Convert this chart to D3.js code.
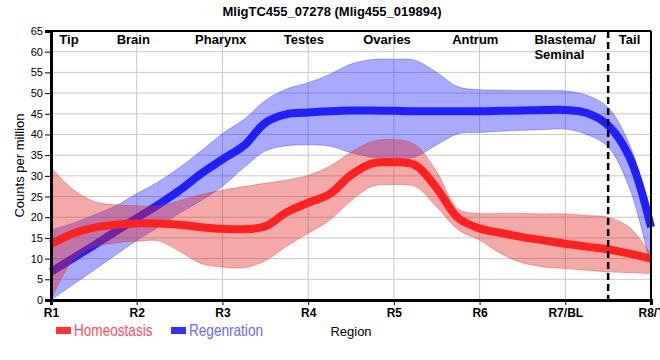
<!DOCTYPE html>
<html>
<head>
<meta charset="utf-8">
<script src="https://cdn.jsdelivr.net/npm/d3@7"></script>
<style>
  html, body { margin: 0; padding: 0; background: #fff; }
  svg { display: block; }
</style>
</head>
<body>
<svg id="chart" width="660" height="360"></svg>
<script>
// ---------------- DATA ----------------
const title = "MligTC455_07278 (Mlig455_019894)";
const xTickLabels = ["R1", "R2", "R3", "R4", "R5", "R6", "R7/BL", "R8/T"];
const yTicks = [0, 5, 10, 15, 20, 25, 30, 35, 40, 45, 50, 55, 60, 65];
const regionNames = ["Tip", "Brain", "Pharynx", "Testes", "Ovaries", "Antrum", "Blastema/\nSeminal", "Tail"];
const regionNamePos = [0.21, 0.96, 1.98, 2.95, 3.92, 4.95, 5.64, 6.75];
const boundaryPos = [6.5];
const seriesNames = ["Homeostasis", "Regenration"];

// sample positions along the region axis (R1 = 0 ... R8/T = 7)
const xs = [0, 0.25, 0.5, 0.75, 1, 1.25, 1.5, 1.75, 2, 2.25, 2.5, 2.75, 3, 3.25, 3.5,
            3.75, 4, 4.25, 4.5, 4.75, 5, 5.25, 5.5, 5.75, 6, 6.25, 6.5, 6.75, 7];

const homeoMean  = [13.5, 16, 17.5, 18.2, 18.5, 18.5, 18.2, 17.6, 17.2, 17.1, 17.8, 21.2, 23.5, 25.6, 30.2,
                    33, 33.3, 32.6, 27, 19.8, 17.3, 16.2, 15.2, 14.4, 13.6, 12.9, 12.2, 11.2, 10];
const homeoUpper = [32, 26.8, 23.8, 23, 22.8, 22.7, 24, 25.5, 26.5, 27.4, 28.2, 29, 30.1, 32.3, 35.7,
                    38.3, 38.8, 37.5, 31, 22, 20.9, 20.9, 20.9, 20.8, 20.8, 20.4, 20, 17.5, 11];
const homeoLower = [0, 9.4, 12.8, 13.8, 14.2, 14.3, 11.8, 8.8, 8, 7.8, 9.5, 13, 16.1, 19.3, 24,
                    27.5, 27.9, 27.4, 22.5, 17, 14.5, 11.2, 9, 8, 7.6, 7.2, 6.8, 6.6, 6.4];

const regenMean  = [6.8, 10, 13.2, 16.5, 19.8, 23, 26.5, 30.5, 34, 37.3, 42.8, 44.9, 45.3, 45.6, 45.8,
                    45.8, 45.7, 45.6, 45.6, 45.6, 45.6, 45.7, 45.8, 45.9, 45.9, 45.2, 42.2, 34.5, 17.6];
const regenUpper = [16.9, 18.5, 20.5, 22.7, 25.7, 28.5, 32, 36, 40.2, 43.6, 48.2, 51, 52.5, 54.5, 57,
                    58.1, 58.2, 57.9, 55, 51.5, 50.8, 50.7, 50.6, 50.6, 50.5, 49.5, 46.5, 37.5, 21];
const regenLower = [0, 3.6, 7.2, 10.8, 14.4, 17.6, 21, 24, 27.5, 32, 36, 37.3, 37.5, 37.2, 35.6,
                    34.5, 34.1, 34.6, 37.5, 40.2, 40.5, 40.8, 41, 41.2, 41.3, 40, 37, 27, 8];

// ---------------- LAYOUT ----------------
const svg = d3.select("#chart");
const W = 660, H = 360;
const m = { left: 51, right: 9, top: 31, bottom: 60 };
const x = d3.scaleLinear().domain([0, 7]).range([m.left, W - m.right]);
const y = d3.scaleLinear().domain([0, 65]).range([H - m.bottom, m.top]);

const FONT = "'Liberation Sans', Arial, sans-serif";

// grid
const grid = svg.append("g");
grid.selectAll("line.h").data(yTicks.slice(1)).join("line")
  .attr("x1", x(0)).attr("x2", x(7))
  .attr("y1", d => y(d)).attr("y2", d => y(d))
  .attr("stroke", "#c8c8c8").attr("stroke-width", 1);
grid.selectAll("line.v").data(d3.range(1, 7)).join("line")
  .attr("x1", d => x(d)).attr("x2", d => x(d))
  .attr("y1", y(0)).attr("y2", y(65))
  .attr("stroke", "#c8c8c8").attr("stroke-width", 1);

// series
const curve = d3.curveCatmullRom.alpha(0.5);
function band(upper, lower) {
  return d3.area().curve(curve)
    .x((d, i) => x(xs[i]))
    .y0((d, i) => y(lower[i]))
    .y1((d, i) => y(upper[i]))(xs);
}
function line(vals) {
  return d3.line().curve(curve).x((d, i) => x(xs[i])).y((d, i) => y(vals[i]))(xs);
}
const plot = svg.append("g");
// regeneration (below)
plot.append("path").attr("d", band(regenUpper, regenLower))
  .attr("fill", "rgba(40,40,250,0.4)").attr("stroke", "rgba(40,40,250,0.35)").attr("stroke-width", 1);
plot.append("path").attr("d", line(regenMean))
  .attr("fill", "none").attr("stroke", "#2020ff").attr("stroke-width", 8);
// homeostasis (above)
plot.append("path").attr("d", band(homeoUpper, homeoLower))
  .attr("fill", "rgba(228,40,40,0.4)").attr("stroke", "rgba(228,40,40,0.35)").attr("stroke-width", 1);
plot.append("path").attr("d", line(homeoMean))
  .attr("fill", "none").attr("stroke", "#ff2020").attr("stroke-width", 8);

// dashed boundary
svg.selectAll("line.bd").data(boundaryPos).join("line")
  .attr("x1", d => x(d)).attr("x2", d => x(d))
  .attr("y1", y(65)).attr("y2", y(0))
  .attr("stroke", "#000").attr("stroke-width", 2.5).attr("stroke-dasharray", "7,4");

// frame top/right
svg.append("line").attr("x1", x(0)).attr("x2", x(7)).attr("y1", y(65)).attr("y2", y(65))
  .attr("stroke", "#000").attr("stroke-width", 2);
svg.append("line").attr("x1", x(7)).attr("x2", x(7)).attr("y1", y(65)).attr("y2", y(0))
  .attr("stroke", "#000").attr("stroke-width", 2);

// axes
const yAxis = svg.append("g").attr("transform", `translate(${x(0)},0)`)
  .call(d3.axisLeft(y).tickValues(yTicks).tickSize(6).tickPadding(2));
yAxis.select(".domain").attr("stroke-width", 3);
yAxis.selectAll("text").attr("font-family", FONT).attr("font-size", 11).attr("fill", "#000");

const xAxis = svg.append("g").attr("transform", `translate(0,${y(0)})`)
  .call(d3.axisBottom(x).tickValues(d3.range(0, 8)).tickFormat(i => xTickLabels[i]).tickSize(5).tickPadding(3));
xAxis.select(".domain").attr("stroke-width", 3);
xAxis.selectAll("text").attr("font-family", FONT).attr("font-size", 12)
  .attr("font-weight", "bold").attr("fill", "#000");

// title
svg.append("text").attr("x", 332).attr("y", 16).attr("text-anchor", "middle")
  .attr("font-family", FONT).attr("font-size", 13).attr("font-weight", "bold").text(title);

// region names
const rn = svg.append("g").attr("font-family", FONT).attr("font-size", 13).attr("font-weight", "bold");
regionNames.forEach((name, i) => {
  const parts = name.split("\n");
  const t = rn.append("text").attr("x", x(regionNamePos[i])).attr("y", 44)
    .attr("text-anchor", parts.length > 1 ? "start" : "middle");
  parts.forEach((p, k) => {
    t.append("tspan").attr("x", x(regionNamePos[i])).attr("dy", k === 0 ? 0 : 15).text(p);
  });
});

// axis titles
svg.append("text").attr("transform", `translate(24,${(y(0) + y(65)) / 2}) rotate(-90)`)
  .attr("text-anchor", "middle").attr("font-family", FONT).attr("font-size", 13).text("Counts per million");
svg.append("text").attr("x", (x(0) + x(7)) / 2).attr("y", 336).attr("text-anchor", "middle")
  .attr("font-family", FONT).attr("font-size", 13).text("Region");

// legend
const legColors = ["#ff3333", "#3333ff"];
const legText = ["#ff4d66", "#6a6aff"];
const legX = [56, 171];
seriesNames.forEach((s, i) => {
  svg.append("rect").attr("x", legX[i]).attr("y", 327).attr("width", 15).attr("height", 7).attr("fill", legColors[i]);
  svg.append("text").attr("transform", `translate(${legX[i] + 18},335.5) scale(0.85,1)`)
    .attr("font-family", FONT).attr("font-size", 16).attr("fill", legText[i]).text(s);
});
</script>
</body>
</html>
